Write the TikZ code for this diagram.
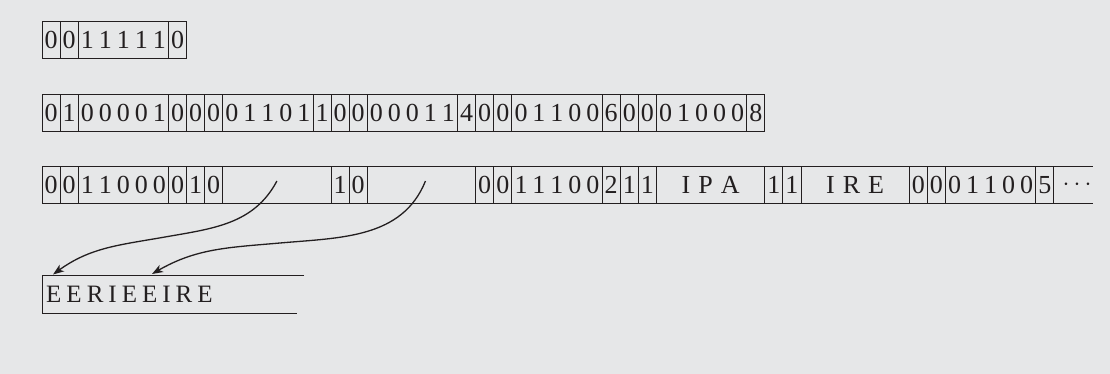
\documentclass[tikz,border=0pt]{standalone}
\usepackage{fontspec}
\setmainfont{Liberation Serif}
\usetikzlibrary{arrows.meta}
\definecolor{bgc}{HTML}{E6E7E8}
\definecolor{ink}{HTML}{231F20}
\newcommand{\cellfont}{\fontsize{26}{30}\selectfont\spaceskip=5pt\relax}
\newcommand{\widefont}{\fontsize{26}{30}\selectfont\spaceskip=8pt\relax}
\newcommand{\tapefont}{\fontsize{25}{30}\selectfont\spaceskip=5pt\relax}
\tikzset{
  cell/.style={draw=ink, line width=0.9pt, minimum height=37pt, inner sep=0pt,
    outer sep=0pt, anchor=west, text=ink, font=\cellfont},
  wcell/.style={cell, font=\widefont},
  c1/.style={minimum width=18.07pt},
  c5/.style={minimum width=90.35pt},
  c6/.style={minimum width=108.42pt},
  rule/.style={draw=ink, line width=0.9pt},
  link/.style={draw=ink, line width=1.3pt, -{Stealth[length=11pt,width=8pt,inset=3pt]}},
}
\begin{document}
\begin{tikzpicture}[x=1pt,y=-1pt]
\fill[bgc] (0,0) rectangle (1110,374);
\useasboundingbox (0,0) rectangle (1110,374);
% row 1
\node[cell,c1] (a1) at (42,40) {0};
\node[cell,c1] (a2) at (a1.east) {0};
\node[cell,c5] (a3) at (a2.east) {1 1 1 1 1};
\node[cell,c1] (a4) at (a3.east) {0};
% row 2
\node[cell,c1] (b1) at (42,112.7) {0};
\node[cell,c1] (b2) at (b1.east) {1};
\node[cell,c5] (b3) at (b2.east) {0 0 0 0 1};
\node[cell,c1] (b4) at (b3.east) {0};
\node[cell,c1] (b5) at (b4.east) {0};
\node[cell,c1] (b6) at (b5.east) {0};
\node[cell,c5] (b7) at (b6.east) {0 1 1 0 1};
\node[cell,c1] (b8) at (b7.east) {1};
\node[cell,c1] (b9) at (b8.east) {0};
\node[cell,c1] (b10) at (b9.east) {0};
\node[cell,c5] (b11) at (b10.east) {0 0 0 1 1};
\node[cell,c1] (b12) at (b11.east) {4};
\node[cell,c1] (b13) at (b12.east) {0};
\node[cell,c1] (b14) at (b13.east) {0};
\node[cell,c5] (b15) at (b14.east) {0 1 1 0 0};
\node[cell,c1] (b16) at (b15.east) {6};
\node[cell,c1] (b17) at (b16.east) {0};
\node[cell,c1] (b18) at (b17.east) {0};
\node[cell,c5] (b19) at (b18.east) {0 1 0 0 0};
\node[cell,c1] (b20) at (b19.east) {8};
% row 3
\node[cell,c1] (r1) at (42,185) {0};
\node[cell,c1] (r2) at (r1.east) {0};
\node[cell,c5] (r3) at (r2.east) {1 1 0 0 0};
\node[cell,c1] (r4) at (r3.east) {0};
\node[cell,c1] (r5) at (r4.east) {1};
\node[cell,c1] (r6) at (r5.east) {0};
\node[cell,c6] (e1) at (r6.east) {};
\node[cell,c1] (r7) at (e1.east) {1};
\node[cell,c1] (r8) at (r7.east) {0};
\node[cell,c6] (e2) at (r8.east) {};
\node[cell,c1] (r9) at (e2.east) {0};
\node[cell,c1] (r10) at (r9.east) {0};
\node[cell,c5] (r11) at (r10.east) {1 1 1 0 0};
\node[cell,c1] (r12) at (r11.east) {2};
\node[cell,c1] (r13) at (r12.east) {1};
\node[cell,c1] (r14) at (r13.east) {1};
\node[wcell,c6] (r15) at (r14.east) {I P A};
\node[cell,c1] (r16) at (r15.east) {1};
\node[cell,c1] (r17) at (r16.east) {1};
\node[wcell,c6] (r18) at (r17.east) {I R E};
\node[cell,c1] (r19) at (r18.east) {0};
\node[cell,c1] (r20) at (r19.east) {0};
\node[cell,c5] (r21) at (r20.east) {0 1 1 0 0};
\node[cell,c1] (r22) at (r21.east) {5};
\coordinate (rend) at (1093,185);
\draw[rule] (r22.north east) -- (r22.north east -| rend);
\draw[rule] (r22.south east) -- (r22.south east -| rend);
\node[text=ink, inner sep=0pt, font=\fontsize{33}{36}\selectfont] (dots) at (1077,185) {$\cdots$};
% tape
\coordinate (tl) at (42,275.7);
\coordinate (tr) at (304,275.7);
\coordinate (bl) at (42,313);
\coordinate (br) at (297,313);
\draw[rule] (tr) -- (tl) -- (bl) -- (br);
\node[anchor=west, inner sep=0pt, text=ink, font=\tapefont] (tape) at (46,294.5) {E E R I E E I R E};
% arrows
\coordinate (s1) at ([shift={(0pt,4pt)}]e1.center);
\coordinate (s2) at ([shift={(4pt,4pt)}]e2.center);
\coordinate (m1) at (165,237);
\coordinate (m2) at (280,243);
\coordinate (t1) at (53,274.5);
\coordinate (t2) at (152,274);
\draw[link] (s1) to[out=-118,in=10] (m1) to[out=190,in=36] (t1);
\draw[link] (s2) to[out=-112,in=5] (m2) to[out=185,in=30] (t2);
\end{tikzpicture}
\end{document}
